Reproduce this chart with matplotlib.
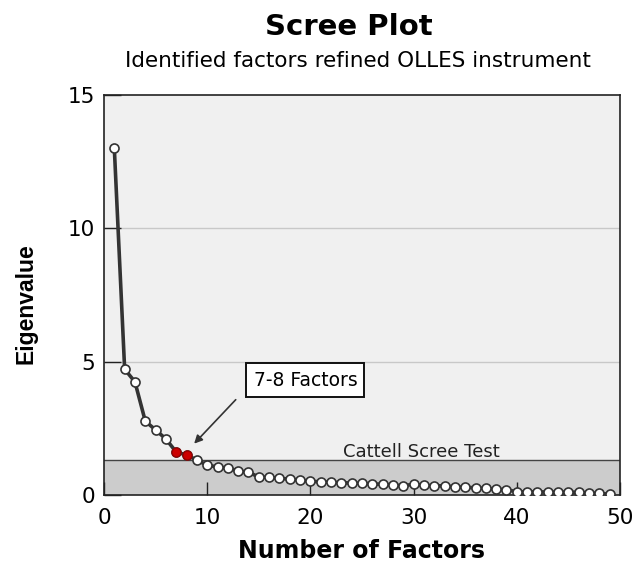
import matplotlib
matplotlib.use("Agg")
import matplotlib.pyplot as plt
from matplotlib.patches import Rectangle

factors = list(range(1, 50))
eigenvalues = [13.0, 4.72, 4.24, 2.77, 2.44, 2.10, 1.61, 1.50, 1.31, 1.12,
               1.05, 1.01, 0.90, 0.86, 0.67, 0.67, 0.62, 0.60, 0.56, 0.52,
               0.49, 0.48, 0.46, 0.45, 0.44, 0.42, 0.40, 0.38, 0.34, 0.41,
               0.36, 0.35, 0.34, 0.31, 0.29, 0.27, 0.25, 0.22, 0.20, 0.12,
               0.12, 0.12, 0.11, 0.11, 0.11, 0.10, 0.08, 0.06, 0.03]
highlight = [7, 8]
cattell_cutoff = 1.31
xticks = [0, 10, 20, 30, 40, 50]
yticks = [0, 5, 10, 15]
title = "Scree Plot"
subtitle = "Identified factors refined OLLES instrument"
annotation = "7-8 Factors"
band_label = "Cattell Scree Test"

fig = plt.figure(figsize=(6.35, 5.68), dpi=100)
ax = fig.add_axes([104/635, 1-495/568, 516/635, 400/568])
ax.set_xlim(0, 50)
ax.set_ylim(0, 15)
ax.set_facecolor("#f0f0f0")

for y in [5, 10]:
    ax.axhline(y, color="#c8c8c8", lw=1, zorder=1)
ax.add_patch(Rectangle((0, 0), 50, cattell_cutoff, facecolor="#cccccc",
                       edgecolor="none", zorder=1))
ax.axhline(cattell_cutoff, color="#444444", lw=1, zorder=2)

ax.plot(factors, eigenvalues, color="#333333", lw=2.6, zorder=3)
ax.plot(factors, eigenvalues, ls="none", marker="o", ms=6.5,
        mfc="white", mec="#333333", mew=1.2, zorder=4)
hx = [f for f in factors if f in highlight]
hy = [eigenvalues[f-1] for f in hx]
ax.plot(hx, hy, ls="none", marker="o", ms=6.5, mfc="#cc0000",
        mec="#990000", mew=1, zorder=5)

ax.text(23.2, 1.43, band_label, fontsize=13, color="#222222",
        va="baseline", zorder=6)

ax.annotate("", xy=(8.55, 1.85), xytext=(12.95, 3.65),
            arrowprops=dict(arrowstyle="-|>", color="#333333", lw=1.2,
                            mutation_scale=12), zorder=6)
ax.text(19.52, 4.31, annotation, fontsize=13.5, ha="center", va="center",
        bbox=dict(boxstyle="square,pad=0.38", fc="white", ec="#111111", lw=1.4),
        zorder=7)

ax.set_xticks(xticks)
ax.set_yticks(yticks)
ax.tick_params(direction="in", width=1, color="#222222", labelsize=15.5)
ax.tick_params(axis="x", length=9.5, pad=9)
ax.tick_params(axis="y", length=12.5, pad=6.5)
ax.set_xticklabels([str(t) for t in xticks])
ax.set_yticklabels([str(t) for t in yticks])
for s in ax.spines.values():
    s.set_color("#222222")
    s.set_linewidth(1.2)

ax.set_xlabel("Number of Factors", fontsize=17, fontweight="bold", labelpad=8)
ax.set_ylabel("Eigenvalue", fontsize=16.5, fontweight="bold", labelpad=22,
              fontfamily=["Liberation Sans Narrow", "Liberation Sans"])
ax.yaxis.label.set_y(0.478)

cx = (104 + 620) / 2 / 635
fig.text(cx - 0.02, 1-35/568, title, ha="center", va="baseline", fontsize=21,
         fontweight="bold")
fig.text(cx - 0.006, 1-67/568, subtitle, ha="center", va="baseline",
         fontsize=15.5)

fig.savefig("out.png", dpi=100)
